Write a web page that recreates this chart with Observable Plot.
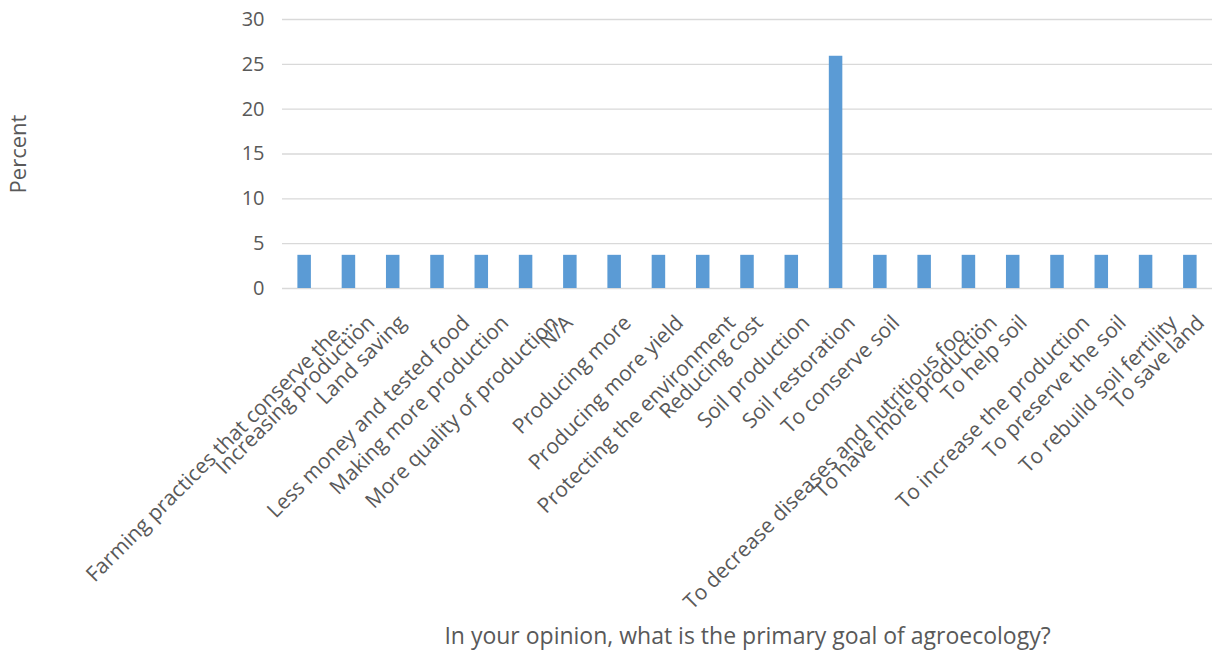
<!DOCTYPE html>
<html><head><meta charset="utf-8">
<script src="https://cdn.jsdelivr.net/npm/d3@7"></script>
<script src="https://cdn.jsdelivr.net/npm/@observablehq/plot@0.6"></script>
<style>body{margin:0;background:#fff;overflow:hidden}</style>
</head><body><div id="chart"></div>
<script>
const categories = [
  "Farming practices that conserve the...",
  "Increasing production",
  "Land saving",
  "Less money and tested food",
  "Making more production",
  "More quality of production",
  "N/A",
  "Producing more",
  "Producing more yield",
  "Protecting the environment",
  "Reducing cost",
  "Soil production",
  "Soil restoration",
  "To conserve soil",
  "To decrease diseases and nutritious foo...",
  "To have more production",
  "To help soil",
  "To increase the production",
  "To preserve the soil",
  "To rebuild soil fertility",
  "To save land"
];
const values = [3.7, 3.7, 3.7, 3.7, 3.7, 3.7, 3.7, 3.7, 3.7, 3.7, 3.7, 3.7, 25.9, 3.7, 3.7, 3.7, 3.7, 3.7, 3.7, 3.7, 3.7];
const yTicks = [0, 5, 10, 15, 20, 25, 30];
const xTitle = "In your opinion, what is the primary goal of agroecology?";
const yTitle = "Percent";

const data = categories.map((c, i) => ({category: c, value: values[i]}));
const textColor = "#595959";

const labelMarks = categories.map(c => Plot.text([c], {
  x: d => d, y: () => 0, text: d => d,
  rotate: -45, textAnchor: "end", lineAnchor: "top",
  dx: 1.3 * c.length - 11, dy: 25,
  fontSize: 21, fill: textColor
}));

const chart = Plot.plot({
  width: 1212,
  height: 651,
  marginLeft: 282,
  marginRight: 0,
  marginTop: 19,
  marginBottom: 363,
  style: {fontFamily: "'Open Sans', sans-serif", background: "white", color: textColor},
  x: {domain: categories, paddingInner: 0.695, paddingOuter: 0.3475, round: false, axis: null},
  y: {domain: [0, 30]},
  marks: [
    Plot.gridY(yTicks, {stroke: "#d9d9d9", strokeOpacity: 1, strokeWidth: 1.3}),
    Plot.axisY(yTicks, {tickSize: 0, tickPadding: 18, fontSize: 20, label: null, fill: textColor}),
    Plot.barY(data, {x: "category", y: "value", fill: "#5b9bd5"}),
    ...labelMarks,
    Plot.text([yTitle], {frameAnchor: "left", dx: -264, rotate: -90, textAnchor: "middle", lineAnchor: "middle", fontSize: 22, fill: textColor}),
    Plot.text([xTitle], {frameAnchor: "bottom", dy: 348, textAnchor: "middle", lineAnchor: "middle", fontSize: 23, fill: textColor})
  ]
});
document.getElementById("chart").appendChild(chart);
</script>
</body></html>
